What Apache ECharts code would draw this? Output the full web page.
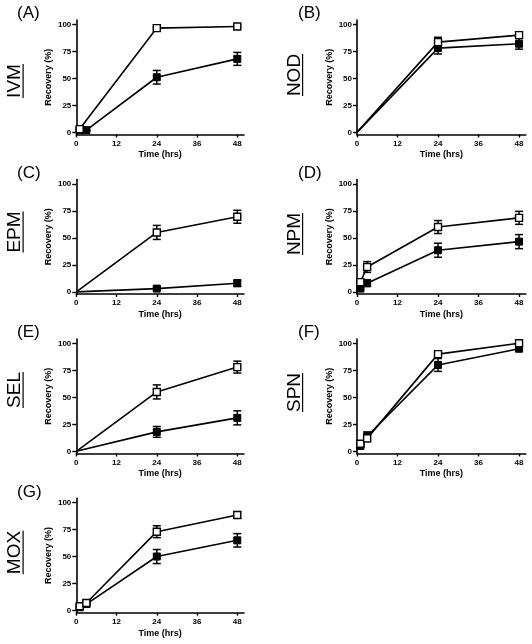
<!DOCTYPE html>
<html>
<head>
<meta charset="utf-8">
<script src="https://cdn.jsdelivr.net/npm/echarts@6/dist/echarts.min.js"></script>
<style>
html,body{margin:0;padding:0;background:#fff;}
#chart{width:532px;height:644px;}
</style>
</head>
<body>
<div id="chart"></div>
<script>
// ---- data ----
const panelLetters = ['(A)', '(B)', '(C)', '(D)', '(E)', '(F)', '(G)'];
const drugNames = ['IVM', 'NOD', 'EPM', 'NPM', 'SEL', 'SPN', 'MOX'];
const xTicks = [0, 12, 24, 36, 48];
const yTicks = [0, 25, 50, 75, 100];
const xAxisName = 'Time (hrs)';
const yAxisName = 'Recovery (%)';

const ivmTimes = [1, 3, 24, 48];
const ivmOpen = [3, null, 96.5, 98];
const ivmOpenErr = [1, 0, 1, 1];
const ivmFilled = [2, 2, 51, 68];
const ivmFilledErr = [0.5, 0.5, 6.3, 6];

const nodTimes = [0, 24, 48];
const nodOpen = [0, 83.5, 90];
const nodOpenErr = [0, 4.5, 3];
const nodFilled = [0, 78, 82];
const nodFilledErr = [0, 5.5, 5];

const epmTimes = [0, 24, 48];
const epmOpen = [0, 55, 69.5];
const epmOpenErr = [0, 6.5, 6];
const epmFilled = [0, 3, 8];
const epmFilledErr = [0, 1, 3];

const npmTimes = [1, 3, 24, 48];
const npmOpen = [9, 23, 60, 68.5];
const npmOpenErr = [1.5, 5, 6, 6];
const npmFilled = [3, 8, 38.5, 46.5];
const npmFilledErr = [1, 3, 6.5, 6.5];

const selTimes = [0, 24, 48];
const selOpen = [0, 55, 78];
const selOpenErr = [0, 6.5, 5.5];
const selFilled = [0, 18, 31];
const selFilledErr = [0, 5, 6.5];

const spnTimes = [1, 3, 24, 48];
const spnOpen = [7, 12, 90, 100];
const spnOpenErr = [1, 3, 2, 1];
const spnFilled = [5, 14, 80, 95];
const spnFilledErr = [1, 4, 6, 1.5];

const moxTimes = [1, 3, 24, 48];
const moxOpen = [4, 7, 73, 88.5];
const moxOpenErr = [1, 1, 5.5, 3];
const moxFilled = [3, 6, 50, 65];
const moxFilledErr = [1, 1, 6.5, 6.2];

const panels = [
  [ivmTimes, ivmOpen, ivmOpenErr, ivmFilled, ivmFilledErr],
  [nodTimes, nodOpen, nodOpenErr, nodFilled, nodFilledErr],
  [epmTimes, epmOpen, epmOpenErr, epmFilled, epmFilledErr],
  [npmTimes, npmOpen, npmOpenErr, npmFilled, npmFilledErr],
  [selTimes, selOpen, selOpenErr, selFilled, selFilledErr],
  [spnTimes, spnOpen, spnOpenErr, spnFilled, spnFilledErr],
  [moxTimes, moxOpen, moxOpenErr, moxFilled, moxFilledErr]
];

// ---- layout ----
const colLeft = [76.3, 357];
const colWidth = [167.7, 168.8];
const rowTop = [20, 179.5, 339, 498.2];
const gridH = 114.5;
const letterLeft = [17, 298];
const letterTop = [5, 164.5, 324, 483.5];
const bigLabelX = [15, 294.5];
const bigLabelY = [81, 75, 232, 234, 390, 392.5, 552.5];
const FONT = '"Liberation Sans", Arial, sans-serif';

const chart = echarts.init(document.getElementById('chart'), null, {renderer: 'canvas'});

const measureCtx = document.createElement('canvas').getContext('2d');
function textWidth(t, font) { measureCtx.font = font; return measureCtx.measureText(t).width; }

const grids = [], xAxes = [], yAxes = [], series = [], titles = [], graphics = [];

panels.forEach((p, i) => {
  const col = i % 2, row = Math.floor(i / 2);
  const [times, openV, openE, filledV, filledE] = p;
  grids.push({left: colLeft[col], top: rowTop[row], width: colWidth[col], height: gridH, containLabel: false});
  xAxes.push({
    type: 'value', gridIndex: i, min: 0, max: 50,
    name: xAxisName, nameLocation: 'middle', nameGap: 16,
    nameTextStyle: {fontFamily: FONT, fontWeight: 'bold', fontSize: 9, color: '#000'},
    axisLine: {onZero: false, lineStyle: {color: '#000', width: 1.6}},
    axisTick: {show: true, length: 3, customValues: xTicks, lineStyle: {color: '#000', width: 1.4}},
    axisLabel: {customValues: xTicks, margin: 5, fontFamily: FONT, fontWeight: 'bold', fontSize: 8, color: '#000'},
    splitLine: {show: false}
  });
  yAxes.push({
    type: 'value', gridIndex: i, min: -2, max: 104,
    name: yAxisName, nameLocation: 'middle', nameGap: 23,
    nameTextStyle: {fontFamily: FONT, fontWeight: 'bold', fontSize: 9, color: '#000'},
    axisLine: {show: true, onZero: false, lineStyle: {color: '#000', width: 1.6}},
    axisTick: {show: true, length: 4, customValues: yTicks, lineStyle: {color: '#000', width: 1.4}},
    axisLabel: {customValues: yTicks, margin: 5, fontFamily: FONT, fontWeight: 'bold', fontSize: 8, color: '#000'},
    splitLine: {show: false}
  });
  const errData = (vals, errs) => times.map((t, k) => [t, vals[k], errs[k]])
    .filter(d => d[1] !== null && d[2] > 0);
  const errSeries = (vals, errs) => ({
    type: 'custom', xAxisIndex: i, yAxisIndex: i, clip: false, silent: true, z: 1,
    data: errData(vals, errs),
    encode: {x: 0, y: 1},
    renderItem: function (params, api) {
      const x = api.value(0), y = api.value(1), e = api.value(2);
      const top = api.coord([x, y + e]);
      const bot = api.coord([x, y - e]);
      const hw = 4;
      const st = {stroke: '#000', lineWidth: 1.5};
      return {type: 'group', children: [
        {type: 'line', shape: {x1: top[0], y1: top[1], x2: bot[0], y2: bot[1]}, style: st},
        {type: 'line', shape: {x1: top[0] - hw, y1: top[1], x2: top[0] + hw, y2: top[1]}, style: st},
        {type: 'line', shape: {x1: bot[0] - hw, y1: bot[1], x2: bot[0] + hw, y2: bot[1]}, style: st}
      ]};
    }
  });
  series.push(errSeries(filledV, filledE));
  series.push(errSeries(openV, openE));
  const symSize = (v) => (v[0] === 0 ? 0 : 7);
  const lineData = (vals) => times.map((t, k) => vals[k] === null ? null : [t, vals[k]]).filter(d => d !== null);
  series.push({
    type: 'line', xAxisIndex: i, yAxisIndex: i, clip: false, silent: true, z: 3,
    data: lineData(filledV),
    symbol: 'rect', symbolSize: symSize, showAllSymbol: true,
    lineStyle: {color: '#000', width: 1.6},
    itemStyle: {color: '#000', borderColor: '#000', borderWidth: 1}
  });
  series.push({
    type: 'line', xAxisIndex: i, yAxisIndex: i, clip: false, silent: true, z: 4,
    data: lineData(openV),
    symbol: 'rect', symbolSize: symSize, showAllSymbol: true,
    lineStyle: {color: '#000', width: 1.6},
    itemStyle: {color: '#fff', borderColor: '#000', borderWidth: 1.4}
  });
  titles.push({
    text: panelLetters[i], left: letterLeft[col], top: letterTop[row], padding: 0,
    textStyle: {fontFamily: FONT, fontWeight: 'normal', fontSize: 17, color: '#000'}
  });
  const bigFont = '19px ' + FONT;
  const w = textWidth(drugNames[i], bigFont);
  graphics.push({
    type: 'group', x: bigLabelX[col], y: bigLabelY[i], rotation: Math.PI / 2, silent: true,
    children: [
      {type: 'text', style: {text: drugNames[i], x: 0, y: 0, align: 'center', verticalAlign: 'middle',
        font: bigFont, fill: '#000'}},
      {type: 'rect', shape: {x: -w / 2, y: 7.5, width: w, height: 1.2}, style: {fill: '#000'}}
    ]
  });
});

chart.setOption({
  animation: false,
  backgroundColor: '#fff',
  title: titles,
  grid: grids,
  xAxis: xAxes,
  yAxis: yAxes,
  series: series,
  graphic: graphics
});
</script>
</body>
</html>
